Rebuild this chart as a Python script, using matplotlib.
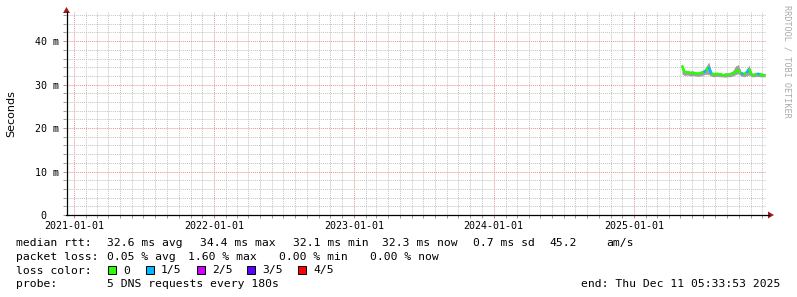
import matplotlib
matplotlib.use('Agg')
import matplotlib.pyplot as plt
import matplotlib.dates as mdates
from matplotlib.ticker import MultipleLocator, FixedLocator, FixedFormatter
from matplotlib.patches import Rectangle, Polygon
import pandas as pd

# weekly median rtt (ms), smoke range and loss bucket
dates = pd.date_range('2025-05-06', periods=32, freq='7D')
median = [34.4, 32.8, 32.9, 32.7, 32.8, 32.6, 32.5, 32.7, 32.9, 33.2, 34.0, 32.5, 32.4, 32.5, 32.4, 32.3,
          32.3, 32.4, 32.4, 32.6, 33.0, 33.3, 32.6, 32.4, 32.7, 33.6, 32.3, 32.3, 32.5, 32.4, 32.3, 32.3]
smoke_lo = [32.4, 32.1, 32.2, 32.0, 32.1, 32.0, 31.9, 32.0, 32.2, 32.4, 32.3, 31.9, 31.8, 31.9, 31.8, 31.8,
            31.7, 31.8, 31.8, 32.0, 32.3, 32.5, 32.0, 31.8, 32.0, 32.2, 31.8, 31.8, 31.9, 31.8, 31.8, 31.8]
smoke_hi = [34.9, 33.1, 33.2, 33.0, 33.1, 32.9, 32.8, 33.0, 33.3, 34.2, 35.2, 32.9, 32.7, 32.8, 32.7, 32.6,
            32.6, 32.7, 32.8, 33.2, 34.3, 34.6, 33.0, 32.8, 33.3, 34.5, 32.7, 32.6, 32.8, 32.7, 32.6, 32.6]
loss = [1, 0, 0, 0, 0, 0, 0, 0, 0, 1, 0, 1, 0, 0, 0, 0, 0, 0, 0, 0, 0, 0, 0, 1, 0, 1, 0, 0, 0, 1, 0, 0]

loss_labels = ['0', '1/5', '2/5', '3/5', '4/5']
loss_colors = ['#26ff00', '#00b8ff', '#cc00ff', '#5a00ff', '#ff0000']

y_ticks = [0, 10, 20, 30, 40]
y_labels = ['0  ', '10 m', '20 m', '30 m', '40 m']

start = pd.Timestamp('2020-12-11 05:33:53')
end = pd.Timestamp('2025-12-11 05:33:53')

W, H = 797, 297
MONO = 'DejaVu Sans Mono'


def fx(x):
    return x / W


def fy(y):
    return 1 - y / H


fig = plt.figure(figsize=(W / 100, H / 100), dpi=100)
ax = fig.add_axes([fx(66), fy(215), fx(766) - fx(66), fy(12) - fy(215)])

# smoke and median line coloured by loss
ax.fill_between(dates, smoke_lo, smoke_hi, color='#a0a0a0', lw=0, zorder=3)
for i in range(len(dates) - 1):
    ax.plot(dates[i:i + 2], median[i:i + 2], color=loss_colors[loss[i + 1]], lw=1.8,
            solid_capstyle='butt', zorder=4)

ax.set_xlim(start, end)
ax.set_ylim(0, 46.7)

ax.xaxis.set_major_locator(mdates.YearLocator())
ax.xaxis.set_minor_locator(mdates.MonthLocator())
ax.xaxis.set_major_formatter(mdates.DateFormatter('%Y-%m-%d'))
ax.yaxis.set_major_locator(FixedLocator(y_ticks))
ax.yaxis.set_major_formatter(FixedFormatter(y_labels))
ax.yaxis.set_minor_locator(MultipleLocator(2))

ax.grid(which='minor', color='#c4c4c4', linestyle=(0, (1, 1)), lw=0.7, zorder=1)
ax.grid(which='major', color='#e89090', linestyle=(0, (1, 1)), lw=0.7, zorder=2)
ax.set_axisbelow(True)

ax.tick_params(which='both', direction='out', length=2, width=0.7, color='#999999')
ax.tick_params(axis='x', which='major', color='#dd7777', pad=2.5)
ax.tick_params(axis='y', which='major', pad=3)
for lab in ax.get_xticklabels() + ax.get_yticklabels():
    lab.set_fontfamily(MONO)
    lab.set_fontsize(7.2)

for s in ['top', 'right', 'left', 'bottom']:
    ax.spines[s].set_visible(False)

# axes with arrows
fig.add_artist(plt.Line2D([fx(66.5), fx(66.5)], [fy(215), fy(12)], color='black', lw=0.9))
fig.add_artist(plt.Line2D([fx(66), fx(769)], [fy(215), fy(215)], color='black', lw=0.9))
fig.add_artist(Polygon([(fx(63), fy(13)), (fx(70), fy(13)), (fx(66.5), fy(7))],
                       closed=True, color='#a01c1c', lw=0))
fig.add_artist(Polygon([(fx(768), fy(211.5)), (fx(768), fy(218.5)), (fx(774), fy(215))],
                       closed=True, color='#a01c1c', lw=0))

fig.text(fx(11), fy(113.5), 'Seconds', rotation=90, ha='center', va='center',
         fontsize=8, family='DejaVu Sans')
fig.text(fx(787), fy(5), 'RRDTOOL / TOBI OETIKER', rotation=-90, ha='center', va='top',
         fontsize=6.1, family=MONO, color='#aaaaaa')

# legend block
fs = 8.2
rows = [
    (246, [(16, 'median rtt:'), (107.3, '32.6 ms avg'), (200, '34.4 ms max'), (293.3, '32.1 ms min'),
           (382, '32.3 ms now'), (473, '0.7 ms sd'), (549, '45.2'), (606, 'am/s')]),
    (260, [(16, 'packet loss:'), (107.3, '0.05 % avg'), (188.3, '1.60 % max'), (279.3, '0.00 % min'),
           (370, '0.00 % now')]),
    (287, [(16, 'probe:'), (107.3, '5 DNS requests every 180s')]),
]
for yb, parts in rows:
    for x, t in parts:
        fig.text(fx(x), fy(yb), t, ha='left', va='baseline', fontsize=fs, family=MONO)

fig.text(fx(16), fy(273.5), 'loss color:', ha='left', va='baseline', fontsize=fs, family=MONO)
box_x = [108, 145.7, 196.7, 247.3, 298.3]
for bx, lab, col in zip(box_x, loss_labels, loss_colors):
    fig.add_artist(Rectangle((fx(bx), fy(273.5)), fx(8), fy(265.5) - fy(273.5),
                             facecolor=col, edgecolor='black', lw=0.7))
    fig.text(fx(bx + 15), fy(273.5), lab, ha='left', va='baseline', fontsize=fs, family=MONO)

fig.text(fx(780), fy(287), 'end: Thu Dec 11 05:33:53 2025', ha='right', va='baseline',
         fontsize=fs, family=MONO)

fig.savefig('out.png', dpi=100, facecolor='white')
